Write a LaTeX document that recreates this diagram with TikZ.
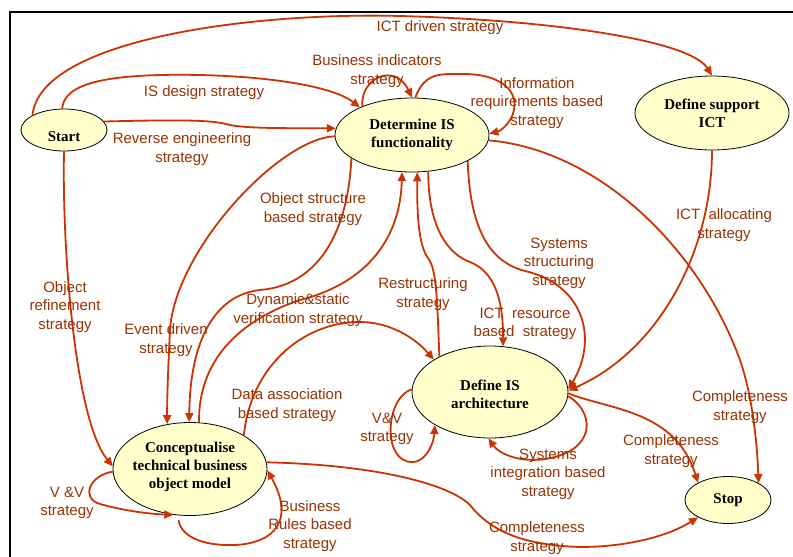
\documentclass[tikz,border=0pt]{standalone}
\usepackage{fontspec}
\setmainfont{Liberation Serif}
\setsansfont{Liberation Sans}
\usetikzlibrary{shapes.geometric,arrows.meta}
\definecolor{arrc}{HTML}{CC3300}
\definecolor{txtc}{HTML}{993300}
\definecolor{ellf}{HTML}{FFFFCC}
\begin{document}
\begin{tikzpicture}[x=1pt,y=-1pt,
  ell/.style={ellipse, draw=black, line width=0.8pt, fill=ellf, inner sep=0pt},
  ntxt/.style={font=\bfseries\fontsize{15}{18}\selectfont, align=center, inner sep=0pt},
  lab/.style={font=\sffamily\fontsize{15}{18.5}\selectfont, text=txtc, align=center, inner sep=0pt},
  conn/.style={draw=arrc, line width=1.8pt, -{Triangle[length=9pt,width=8pt]}}]
\useasboundingbox (0,0) rectangle (793,557);
\fill[white] (0,0) rectangle (793,557);
\draw[line width=1.3pt] (10,557) -- (10,12) -- (793,12);

% nodes
\node[ell, minimum width=86pt, minimum height=42pt,
  label={[ntxt,yshift=-7pt]center:Start}] (start) at (64,130) {};
\node[ell, minimum width=154pt, minimum height=74pt,
  label={[ntxt]center:Determine IS\\functionality}] (det) at (412,135) {};
\node[ell, minimum width=154pt, minimum height=74pt,
  label={[ntxt]center:Define support\\ICT}] (sup) at (712,113) {};
\node[ell, minimum width=156pt, minimum height=92pt,
  label={[ntxt,yshift=-2pt]center:Define IS\\architecture}] (arch) at (490,392) {};
\node[ell, minimum width=154pt, minimum height=93pt,
  label={[ntxt,yshift=2.5pt]center:Conceptualise\\technical business\\object model}] (conc) at (190,469) {};
\node[ell, minimum width=86pt, minimum height=47pt,
  label={[ntxt]center:Stop}] (stop) at (728,500) {};

% connectors
\draw[conn] (start.155) .. controls (40,40) and (250,12) .. (400,16) .. controls (550,20) and (690,40) .. (sup.90);
\draw[conn] (start.95) .. controls (64,85) and (100,73) .. (200,75) .. controls (280,77) and (335,88) .. (det.152);
\draw[conn] (start.12) .. controls (200,119) and (215,121) .. (230,125) .. controls (250,129) and (300,128) .. (det.175);
\draw[conn] (det.150) .. controls (360,78) and (395,62) .. (det.90);
\draw[conn] (det.85) .. controls (425,72) and (440,74) .. (463,74) .. controls (500,74) and (518,90) .. (514,110) .. controls (511,124) and (500,131) .. (det.1);
\draw[conn] (det.181) .. controls (280,138) and (175,250) .. (170,330) .. controls (168,370) and (167,400) .. (conc.117);
\draw[conn] (det.201) .. controls (348,230) and (320,285) .. (260,290) .. controls (215,295) and (190,340) .. (conc.91);
\draw[conn] (conc.79) .. controls (198,360) and (240,320) .. (300,300) .. controls (360,285) and (400,245) .. (det.255);
\draw[conn] (arch.145) .. controls (437,300) and (437,270) .. (428,258) .. controls (418,245) and (417,210) .. (det.278);
\draw[conn] (det.-66) .. controls (428,230) and (450,255) .. (470,262) .. controls (495,272) and (503,300) .. (arch.74);
\draw[conn] (det.-25) .. controls (470,230) and (490,262) .. (525,271) .. controls (585,285) and (598,340) .. (arch.2);
\draw[conn] (conc.32) .. controls (250,370) and (300,322) .. (360,322) .. controls (390,322) and (415,338) .. (arch.150);
\draw[conn] (arch.178) .. controls (385,398) and (382,462) .. (412,462) .. controls (428,462) and (434,440) .. (arch.211);
\draw[conn] (arch.-3) .. controls (592,410) and (598,445) .. (555,457) .. controls (525,465) and (500,455) .. (arch.-92);
\draw[conn] (arch.-1) .. controls (610,410) and (675,410) .. (stop.150);
\draw[conn] (sup.-90) .. controls (712,250) and (660,350) .. (arch.1);
\draw[conn] (det.-4) .. controls (600,150) and (700,250) .. (740,360) .. controls (752,395) and (757,440) .. (stop.29);
\draw[conn] (conc.5) .. controls (380,465) and (450,485) .. (470,505) .. controls (490,530) and (520,545) .. (580,547) .. controls (630,547) and (670,535) .. (stop.210);
\draw[conn] (start.-90) .. controls (62,250) and (75,420) .. (conc.178);
\draw[conn] (conc.182) .. controls (90,475) and (80,498) .. (100,504) .. controls (125,511) and (150,514) .. (conc.250);
\draw[conn, shorten <=5pt] (conc.-105) .. controls (182,540) and (210,546) .. (235,545) .. controls (275,543) and (295,520) .. (conc.-1);

% labels
\node[lab] (l1) at (440,28) {ICT driven strategy};
\node[lab] (l2) at (377,71) {Business indicators\\strategy};
\node[lab] (l3) at (204,93) {IS design strategy};
\node[lab] (l4) at (537,103) {Information\\requirements based\\strategy};
\node[lab] (l5) at (182,149) {Reverse engineering\\strategy};
\node[lab] (l6) at (313,209) {Object structure\\based strategy};
\node[lab] (l7) at (724,225) {ICT\ \ allocating\\strategy};
\node[lab] (l8) at (559,263) {Systems\\structuring\\strategy};
\node[lab] (l9) at (65,307) {Object\\refinement\\strategy};
\node[lab] (l10) at (423,294) {Restructuring\\strategy};
\node[lab] (l11) at (298,310) {Dynamic\&static\\verification strategy};
\node[lab] (l12) at (525,324) {ICT\ \ resource\\based\ \ strategy};
\node[lab] (l13) at (166,340) {Event driven\\strategy};
\node[lab] (l14) at (287,405) {Data association\\based strategy};
\node[lab] (l15) at (387,429) {V\&V\\strategy};
\node[lab] (l16) at (740,407) {Completeness\\strategy};
\node[lab] (l17) at (671,451) {Completeness\\strategy};
\node[lab] (l18) at (548,474) {Systems\\integration based\\strategy};
\node[lab] (l19) at (67,503) {V \&V\\strategy};
\node[lab] (l20) at (310,526) {Business\\Rules based\\strategy};
\node[lab] (l21) at (537,538) {Completeness\\strategy};
\end{tikzpicture}
\end{document}
